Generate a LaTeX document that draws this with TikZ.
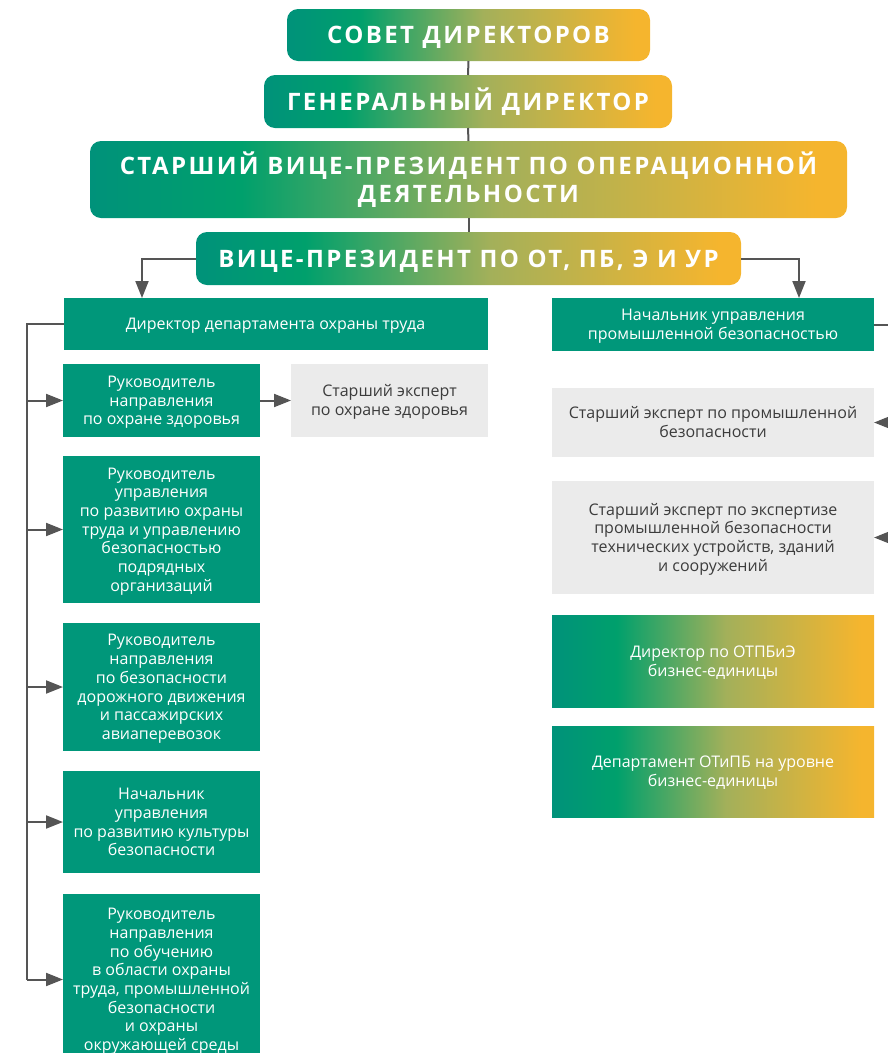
\documentclass[tikz,border=0pt]{standalone}
\usepackage{fontspec}
\setmainfont{Open Sans}
\newfontfamily\bodyfont{Open Sans}
\newfontfamily\hdrfont[LetterSpace=10]{Open Sans}
\usetikzlibrary{arrows.meta}
\definecolor{tealbox}{HTML}{00977A}
\definecolor{graybox}{HTML}{EBEBEB}
\definecolor{textgray}{HTML}{3C3C3C}
\definecolor{lineg}{HTML}{555555}
\definecolor{gA}{HTML}{00927A}
\definecolor{gB}{HTML}{00A06C}
\definecolor{gC}{HTML}{A3B05A}
\definecolor{gD}{HTML}{F5B52E}
\pgfdeclarehorizontalshading{gy}{100bp}{color(0bp)=(gA); color(25bp)=(gA); color(35bp)=(gB); color(52bp)=(gC); color(73bp)=(gD); color(100bp)=(gD)}
\tikzset{
  conn/.style={draw=lineg, line width=2pt},
  arr/.style={conn, -{Triangle[length=17pt,width=13pt]}},
  hdr/.style={shading=gy, rounded corners=11pt, text=white, align=center, inner sep=0pt, outer sep=0pt,
    text height=17.1pt, text depth=0pt,
    font=\hdrfont\bfseries\fontsize{24}{28}\selectfont},
  bodytxt/.style={align=center, inner sep=0pt, outer sep=0pt, text height=11.4pt, text depth=0pt,
    font=\bodyfont\fontsize{16}{18.7}\selectfont},
  gbox/.style={bodytxt, fill=tealbox, text=white},
  ebox/.style={bodytxt, fill=graybox, text=textgray},
  grbox/.style={bodytxt, shading=gy, text=white}
}
\begin{document}
\begin{tikzpicture}[x=1pt,y=-1pt]
\useasboundingbox (0,0) rectangle (887,1053);
% headers
\node[hdr, minimum width=363pt, minimum height=52pt] (sd) at (468.5,35) {СОВЕТ ДИРЕКТОРОВ};
\node[hdr, minimum width=408pt, minimum height=53pt] (gd) at (468,101.5) {ГЕНЕРАЛЬНЫЙ ДИРЕКТОР};
\node[hdr, minimum width=757pt, minimum height=77pt, text height=45.1pt] (svp) at (468.5,179.5) {СТАРШИЙ ВИЦЕ-ПРЕЗИДЕНТ ПО ОПЕРАЦИОННОЙ\\ДЕЯТЕЛЬНОСТИ};
\node[hdr, minimum width=545pt, minimum height=53pt] (vp) at (468.5,258.5) {ВИЦЕ-ПРЕЗИДЕНТ ПО ОТ, ПБ, Э И УР};
% left column
\node[gbox, minimum width=424pt, minimum height=52pt] (dir) at (275.5,324) {Директор департамента охраны труда};
\node[gbox, minimum width=197pt, minimum height=73pt, text height=48.8pt] (b1) at (161.5,400.5) {Руководитель\\направления\\по охране здоровья};
\node[ebox, minimum width=197pt, minimum height=73pt, text height=30.1pt] (e1) at (389.5,400.5) {Старший эксперт\\по охране здоровья};
\node[gbox, minimum width=197pt, minimum height=147pt, text height=123.6pt] (b2) at (161.5,529.5) {Руководитель\\управления\\по развитию охраны\\труда и управлению\\безопасностью\\подрядных\\организаций};
\node[gbox, minimum width=197pt, minimum height=128pt, text height=104.9pt] (b3) at (161.5,687) {Руководитель\\направления\\по безопасности\\дорожного движения\\и пассажирских\\авиаперевозок};
\node[gbox, minimum width=197pt, minimum height=102pt, text height=67.5pt] (b4) at (161.5,822) {Начальник\\управления\\по развитию культуры\\безопасности};
\node[gbox, minimum width=197pt, minimum height=171pt, text height=142.3pt] (b5) at (161.5,979.5) {Руководитель\\направления\\по обучению\\в области охраны\\труда, промышленной\\безопасности\\и охраны\\окружающей среды};
% right column
\node[gbox, minimum width=322pt, minimum height=53pt, text height=30.1pt] (nach) at (713,324.5) {Начальник управления\\промышленной безопасностью};
\node[ebox, minimum width=322pt, minimum height=69pt, text height=30.1pt] (e2) at (713,422.5) {Старший эксперт по промышленной\\безопасности};
\node[ebox, minimum width=322pt, minimum height=113pt, text height=67.5pt] (e3) at (713,537.5) {Старший эксперт по экспертизе\\промышленной безопасности\\технических устройств, зданий\\и сооружений};
\node[grbox, minimum width=322pt, minimum height=92pt, text height=30.1pt] (g1) at (713,661) {Директор по ОТПБиЭ\\бизнес-единицы};
\node[grbox, minimum width=322pt, minimum height=91pt, text height=30.1pt] (g2) at (713,771.5) {Департамент ОТиПБ на уровне\\бизнес-единицы};
% coordinates
\coordinate (dl) at (142,298);
\coordinate (dr) at (799,298);
\coordinate (busx) at (27,0);
\coordinate (redge) at (905,0);
% connectors
\draw[conn] (sd.south) -- (gd.north);
\draw[conn] (gd.south) -- (svp.north);
\draw[conn] (svp.south) -- (vp.north);
\draw[arr] (vp.west) -| (dl);
\draw[arr] (vp.east) -| (dr);
\draw[conn] (dir.west) -- (dir.west -| busx) -- (busx |- b5.west);
\draw[arr] (busx |- b1.west) -- (b1.west);
\draw[arr] (busx |- b2.west) -- (b2.west);
\draw[arr] (busx |- b3.west) -- (b3.west);
\draw[arr] (busx |- b4.west) -- (b4.west);
\draw[arr] (busx |- b5.west) -- (b5.west);
\draw[arr] (b1.east) -- (e1.west);
\draw[conn] (nach.east) -- (nach.east -| redge);
\draw[arr] (redge |- e2.east) -- (e2.east);
\draw[arr] (redge |- e3.east) -- (e3.east);
\end{tikzpicture}
\end{document}
